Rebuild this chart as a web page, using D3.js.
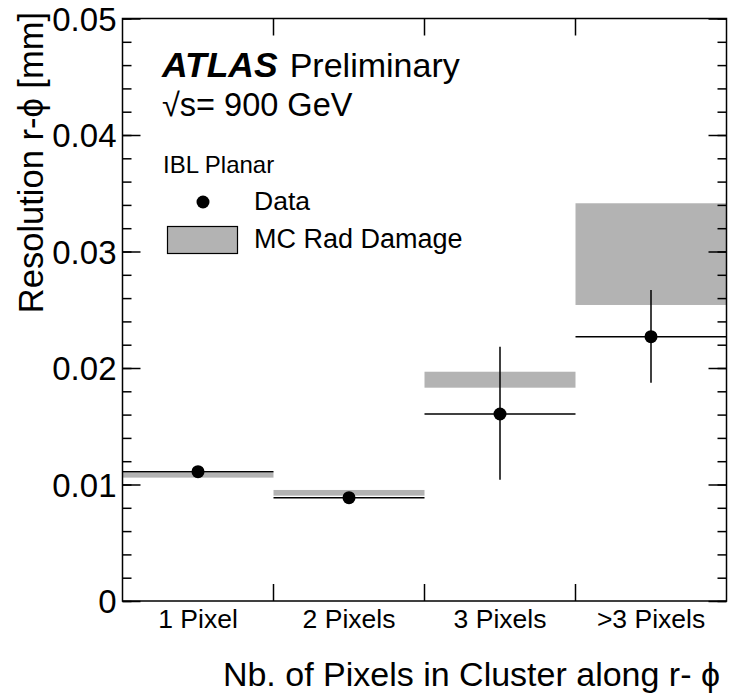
<!DOCTYPE html>
<html>
<head>
<meta charset="utf-8">
<script src="https://cdn.jsdelivr.net/npm/d3@7"></script>
<style>
  body { margin: 0; background: #fff; }
  svg { display: block; }
</style>
</head>
<body>
<div id="chart"></div>
<script>
// cluster size categories (bins along x)
const categories = ["1 Pixel", "2 Pixels", "3 Pixels", ">3 Pixels"];

// data: resolution r-phi [mm] with error bar ends
const dataValues = [0.0111, 0.00887, 0.01605, 0.02269];
const dataErrLow = [0.0108, 0.00860, 0.01040, 0.01874];
const dataErrHigh = [0.0114, 0.00914, 0.02183, 0.02670];

// MC rad damage band (low / high)
const mcLow = [0.01059, 0.00904, 0.01831, 0.02541];
const mcHigh = [0.01101, 0.00953, 0.01968, 0.03414];

const yTicks = [0, 0.01, 0.02, 0.03, 0.04, 0.05];
const yMinorTicks = d3.range(0, 0.0501, 0.002);

const W = 730, H = 699;
const frame = { left: 122.5, right: 726.5, top: 18.5, bottom: 601 };
const font = "'Liberation Sans', Arial, 'DejaVu Sans', sans-serif";
const grey = "#b3b3b3";

const svg = d3.select("#chart")
  .append("svg")
  .attr("width", W)
  .attr("height", H)
  .attr("font-family", font);

const x = d3.scaleBand()
  .domain(categories)
  .range([frame.left, frame.right])
  .padding(0);

const y = d3.scaleLinear()
  .domain([0, 0.05])
  .range([frame.bottom, frame.top]);

// MC bands
svg.append("g")
  .selectAll("rect")
  .data(categories)
  .join("rect")
  .attr("x", d => x(d))
  .attr("width", x.bandwidth())
  .attr("y", (d, i) => y(mcHigh[i]))
  .attr("height", (d, i) => y(mcLow[i]) - y(mcHigh[i]))
  .attr("fill", grey);

// data: horizontal bin-width lines
let dataG = svg.append("g");
dataG.selectAll("line.h")
  .data(categories)
  .join("line")
  .attr("class", "h")
  .attr("x1", d => x(d))
  .attr("x2", d => x(d) + x.bandwidth())
  .attr("y1", (d, i) => y(dataValues[i]))
  .attr("y2", (d, i) => y(dataValues[i]))
  .attr("stroke", "#000")
  .attr("stroke-width", 1.5);

// data: vertical error bars
dataG.selectAll("line.v")
  .data(categories)
  .join("line")
  .attr("class", "v")
  .attr("x1", d => x(d) + x.bandwidth() / 2)
  .attr("x2", d => x(d) + x.bandwidth() / 2)
  .attr("y1", (d, i) => y(dataErrLow[i]))
  .attr("y2", (d, i) => y(dataErrHigh[i]))
  .attr("stroke", "#000")
  .attr("stroke-width", 1.5);

dataG.selectAll("circle")
  .data(categories)
  .join("circle")
  .attr("cx", d => x(d) + x.bandwidth() / 2)
  .attr("cy", (d, i) => y(dataValues[i]))
  .attr("r", 6.5)
  .attr("fill", "#000");

// frame
svg.append("rect")
  .attr("x", frame.left)
  .attr("y", frame.top)
  .attr("width", frame.right - frame.left)
  .attr("height", frame.bottom - frame.top)
  .attr("fill", "none")
  .attr("stroke", "#000")
  .attr("stroke-width", 1.5);

// Y axis (left) major ticks + labels
let yAxis = svg.append("g")
  .attr("transform", `translate(${frame.left},0)`)
  .call(d3.axisLeft(y).tickValues(yTicks).tickSize(-18).tickPadding(6)
    .tickFormat(d => d === 0 ? "0" : d3.format(".2f")(d)));
yAxis.select(".domain").remove();
yAxis.selectAll(".tick line").attr("stroke-width", 1.5);
yAxis.selectAll("text")
  .attr("font-family", font)
  .attr("font-size", 33)
  .attr("fill", "#000")
  .attr("dy", "0.36em");

// Y minor ticks
let yMinor = svg.append("g")
  .attr("transform", `translate(${frame.left},0)`)
  .call(d3.axisLeft(y).tickValues(yMinorTicks).tickSize(-9).tickFormat(""));
yMinor.select(".domain").remove();
yMinor.selectAll(".tick line").attr("stroke-width", 1.5);

// right axis ticks
let yRight = svg.append("g")
  .attr("transform", `translate(${frame.right},0)`)
  .call(d3.axisRight(y).tickValues(yTicks).tickSize(-18).tickFormat(""));
yRight.select(".domain").remove();
yRight.selectAll(".tick line").attr("stroke-width", 1.5);

let yRightMinor = svg.append("g")
  .attr("transform", `translate(${frame.right},0)`)
  .call(d3.axisRight(y).tickValues(yMinorTicks).tickSize(-9).tickFormat(""));
yRightMinor.select(".domain").remove();
yRightMinor.selectAll(".tick line").attr("stroke-width", 1.5);

// X axis labels at bin centres
let xAxis = svg.append("g")
  .attr("transform", `translate(0,${frame.bottom})`)
  .call(d3.axisBottom(x).tickSize(0).tickPadding(6));
xAxis.select(".domain").remove();
xAxis.selectAll("text")
  .attr("font-family", font)
  .attr("font-size", 26.5)
  .attr("fill", "#000")
  .attr("dy", "0.78em");

// X ticks at bin edges (bottom and top)
const edges = categories.slice(1).map(c => x(c));
svg.append("g")
  .selectAll("line")
  .data(edges)
  .join("line")
  .attr("x1", d => d).attr("x2", d => d)
  .attr("y1", frame.bottom).attr("y2", frame.bottom - 17)
  .attr("stroke", "#000").attr("stroke-width", 1.5);
svg.append("g")
  .selectAll("line")
  .data(edges)
  .join("line")
  .attr("x1", d => d).attr("x2", d => d)
  .attr("y1", frame.top).attr("y2", frame.top + 17)
  .attr("stroke", "#000").attr("stroke-width", 1.5);

// axis titles
svg.append("text")
  .attr("x", 720)
  .attr("y", 686)
  .attr("text-anchor", "end")
  .attr("font-size", 34)
  .text("Nb. of Pixels in Cluster along r- ϕ");

svg.append("text")
  .attr("transform", "translate(43,12) rotate(-90)")
  .attr("text-anchor", "end")
  .attr("font-size", 34.5)
  .text("Resolution r-ϕ [mm]");

// ATLAS label
let label = svg.append("text")
  .attr("x", 162)
  .attr("y", 77)
  .attr("font-size", 34);
label.append("tspan")
  .attr("font-weight", "bold")
  .attr("font-style", "italic")
  .attr("font-size", 35.5)
  .text("ATLAS");
label.append("tspan")
  .attr("dx", 12)
  .text("Preliminary");

svg.append("text")
  .attr("x", 162)
  .attr("y", 116)
  .attr("font-size", 32.5)
  .text("√s= 900 GeV");

// legend
svg.append("text")
  .attr("x", 163)
  .attr("y", 173)
  .attr("font-size", 24)
  .text("IBL Planar");

svg.append("circle")
  .attr("cx", 203)
  .attr("cy", 202)
  .attr("r", 6.5)
  .attr("fill", "#000");
svg.append("text")
  .attr("x", 254)
  .attr("y", 210)
  .attr("font-size", 26.5)
  .text("Data");

svg.append("rect")
  .attr("x", 167.5)
  .attr("y", 226.5)
  .attr("width", 70)
  .attr("height", 27)
  .attr("fill", grey)
  .attr("stroke", "#000")
  .attr("stroke-width", 1.2);
svg.append("text")
  .attr("x", 254)
  .attr("y", 248)
  .attr("font-size", 27)
  .text("MC Rad Damage");
</script>
</body>
</html>
